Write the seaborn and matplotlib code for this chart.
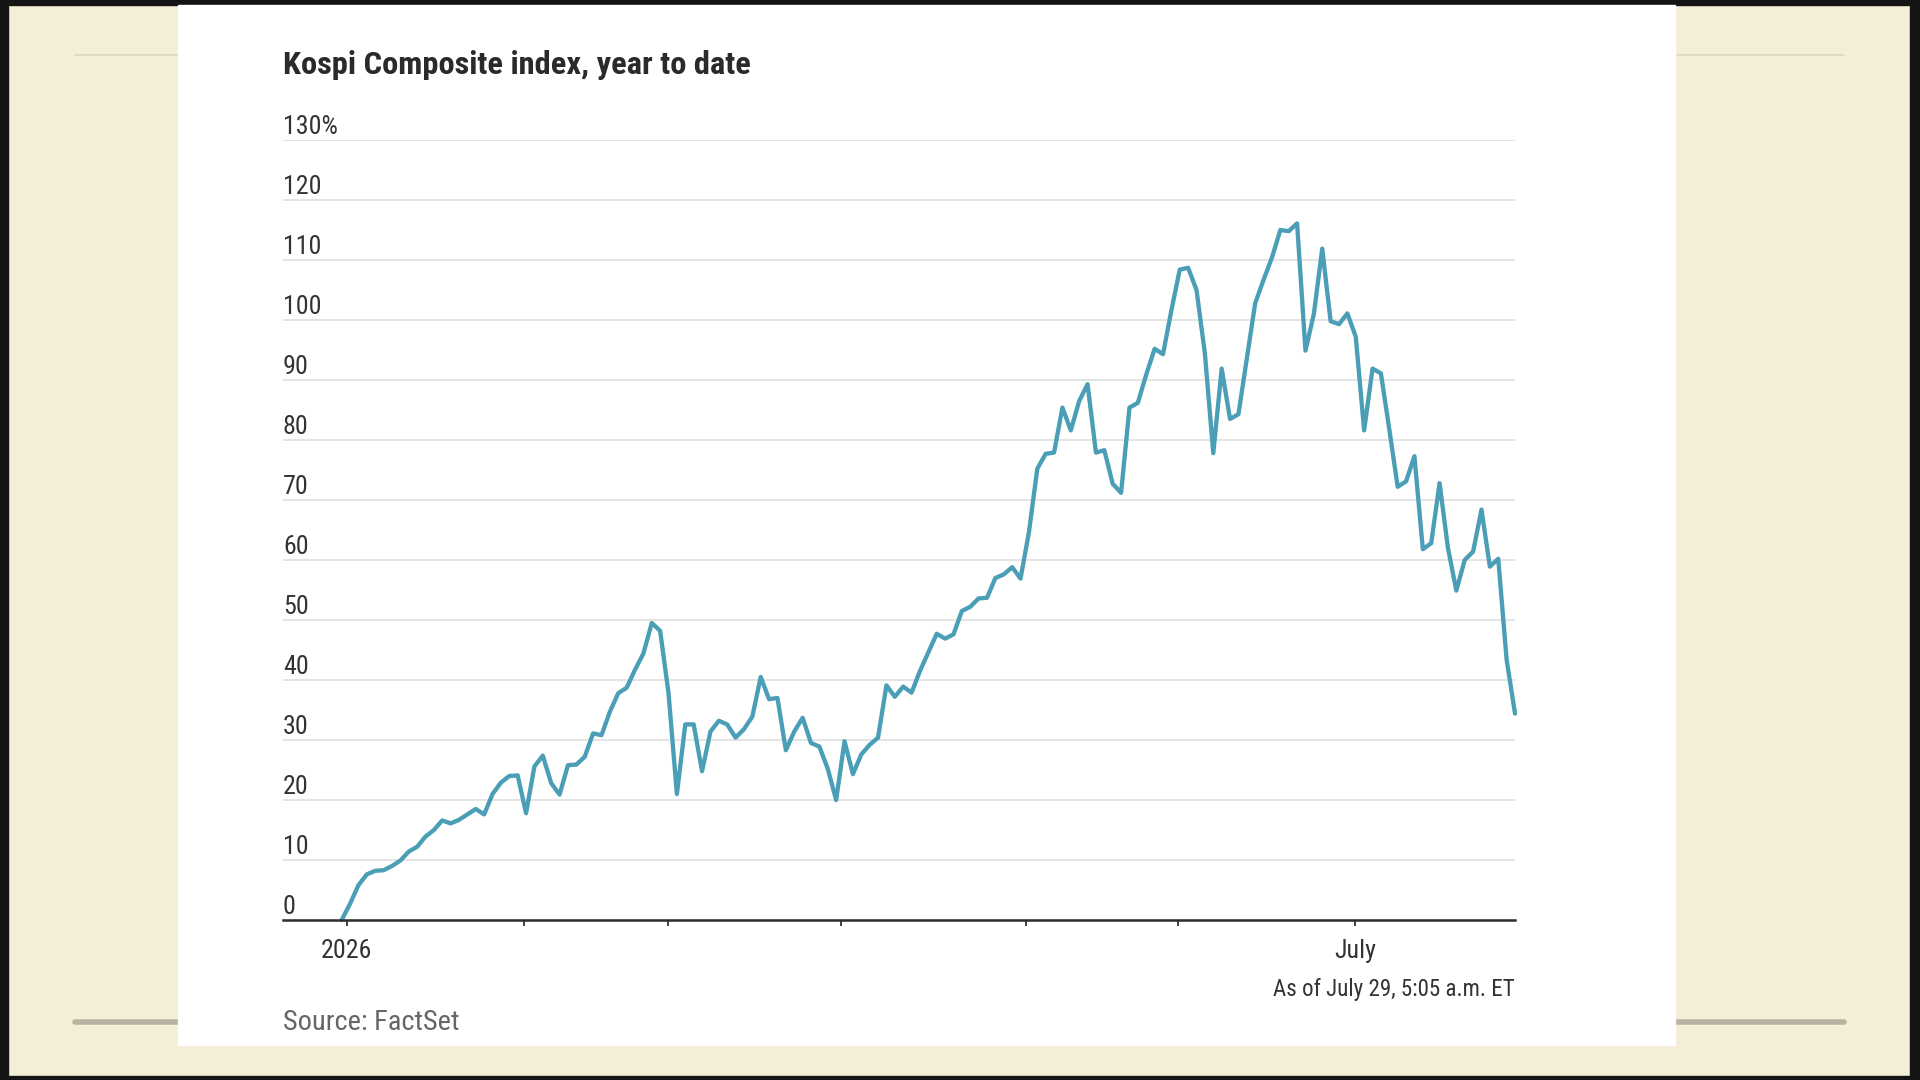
import matplotlib
matplotlib.use("Agg")
import matplotlib.pyplot as plt
from matplotlib import font_manager
from matplotlib.patches import Rectangle
from matplotlib.lines import Line2D
import pandas as pd
import seaborn as sns

# Kospi year-to-date change (%), one value per trading session
kospi_ytd = [
    0.0, 2.7, 5.8, 7.6, 8.2, 8.3, 9.0, 9.9, 11.4, 12.2,
    13.9, 15.0, 16.6, 16.1, 16.7, 17.6, 18.5, 17.6, 21.0, 22.9,
    24.0, 24.1, 17.8, 25.6, 27.4, 22.8, 20.9, 25.8, 25.9, 27.2,
    31.1, 30.8, 34.7, 37.8, 38.7, 41.7, 44.4, 49.5, 48.2, 37.8,
    21.0, 32.6, 32.6, 24.8, 31.4, 33.2, 32.6, 30.4, 31.8, 33.9,
    40.5, 36.8, 37.0, 28.3, 31.4, 33.7, 29.5, 28.9, 25.2, 20.0,
    29.8, 24.3, 27.6, 29.2, 30.4, 39.1, 37.2, 38.9, 37.9, 41.5,
    44.6, 47.7, 46.9, 47.6, 51.5, 52.2, 53.6, 53.7, 57.0, 57.6,
    58.8, 56.9, 64.6, 75.2, 77.7, 77.9, 85.4, 81.6, 86.5, 89.3,
    77.9, 78.3, 72.7, 71.2, 85.4, 86.2, 90.9, 95.2, 94.3, 101.6,
    108.4, 108.7, 105.0, 94.4, 77.8, 91.9, 83.5, 84.3, 93.5, 102.8,
    106.7, 110.4, 115.0, 114.8, 116.1, 94.9, 101.0, 111.9, 99.8, 99.3,
    101.1, 97.2, 81.6, 91.9, 91.1, 81.8, 72.2, 73.1, 77.3, 61.8,
    62.8, 72.8, 62.0, 54.9, 60.0, 61.4, 68.4, 58.9, 60.2, 43.4,
    34.4,
]
sessions = list(range(len(kospi_ytd)))

# month starts, in session units
month_ticks = [0.6, 21.8, 38.9, 59.6, 81.7, 99.8, 120.9]
month_labels = ["2026", "", "", "", "", "", "July"]

y_ticks = [0, 10, 20, 30, 40, 50, 60, 70, 80, 90, 100, 110, 120, 130]
y_labels = ["0", "10", "20", "30", "40", "50", "60", "70", "80", "90",
            "100", "110", "120", "130%"]

df = pd.DataFrame({"session": sessions, "change": kospi_ytd})

installed = {f.name for f in font_manager.fontManager.ttflist}


def pick(*names):
    for n in names:
        if n in installed:
            return n
    return "DejaVu Sans"


narrow = pick("Roboto Condensed", "Roboto", "Liberation Sans")

sns.set_style("white")
plt.rcParams["font.family"] = [narrow, "DejaVu Sans"]

W, H = 1920, 1080
cream = "#f5eed6"
fig = plt.figure(figsize=(19.2, 10.8), dpi=100, facecolor=cream)


def fx(px):
    return px / W


def fy(py):
    return 1 - py / H


# dark ragged frame of the photo
for r in [(0, 0, W, 5), (0, H - 4, W, 4), (0, 0, 8, H), (W - 10, 0, 10, H)]:
    fig.add_artist(Rectangle((fx(r[0]), fy(r[1] + r[3])), r[2] / W, r[3] / H,
                             transform=fig.transFigure, color="#141414", zorder=0))

# rules on the page behind the card
for x0, x1 in [(75, 178), (1675, 1844)]:
    fig.add_artist(Line2D([fx(x0), fx(x1)], [fy(55), fy(55)], transform=fig.transFigure,
                          color="#ddd6c0", lw=1.2, zorder=1))
    fig.add_artist(Line2D([fx(x0), fx(x1)], [fy(1022), fy(1022)], transform=fig.transFigure,
                          color="#b9b2a0", lw=4, zorder=1))

# white card
fig.add_artist(Rectangle((fx(178), fy(1045)), (1675 - 178) / W, (1045 - 5) / H,
                         transform=fig.transFigure, color="white", zorder=1))

ax = fig.add_axes([fx(283), fy(920), (1515 - 283) / W, (920 - 140) / H])
ax.set_facecolor("none")
ax.set_zorder(3)

sns.lineplot(data=df, x="session", y="change", ax=ax, color="#4a9eb6",
             lw=3.1, clip_on=False, zorder=4)

ax.set_xlim(-7.0, 140)
ax.set_ylim(0, 130)
ax.set_yticks(y_ticks)
ax.set_xticks(month_ticks)
ax.set_xticklabels(month_labels)
ax.set_xlabel("")
ax.set_ylabel("")
ax.grid(axis="y", color="#e2e2e2", lw=1.3)
ax.grid(axis="x", visible=False)
for s in ["top", "right", "left"]:
    ax.spines[s].set_visible(False)
ax.spines["bottom"].set_color("#2e2e2e")
ax.spines["bottom"].set_linewidth(1.8)
ax.spines["bottom"].set_zorder(5)
ax.tick_params(axis="y", left=False, labelleft=False)
ax.tick_params(axis="x", bottom=True, length=4.5, width=1.3, color="#333333",
               pad=9, labelsize=18.7, labelcolor="#333333")

for v, lab in zip(y_ticks, y_labels):
    ax.text(0, v + 1.0, lab, transform=ax.get_yaxis_transform(), ha="left",
            va="baseline", fontsize=18.7, color="#333333")

fig.text(fx(283), fy(74), "Kospi Composite index, year to date",
         fontweight="bold", fontsize=23.4, color="#2a2a2a", va="baseline", ha="left")
fig.text(fx(1515), fy(996), "As of July 29, 5:05 a.m. ET", fontsize=16.6,
         color="#333333", va="baseline", ha="right")
fig.text(fx(283), fy(1030), "Source: FactSet", fontsize=20.5,
         color="#666666", va="baseline", ha="left")

fig.savefig("out.png", dpi=100, facecolor=cream)
